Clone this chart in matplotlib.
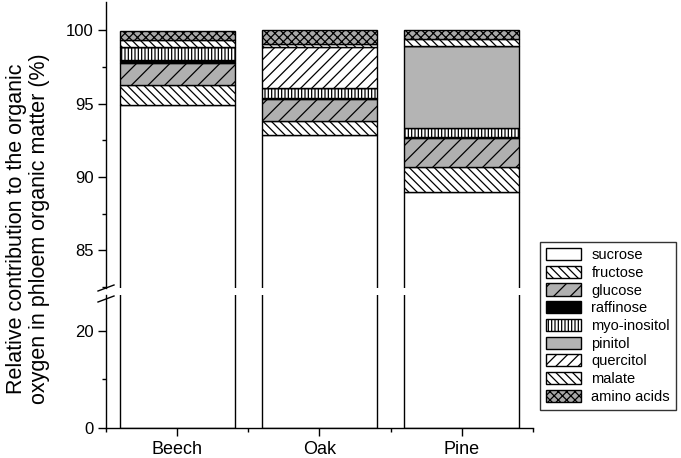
import matplotlib
matplotlib.use("Agg")
import matplotlib.pyplot as plt
import numpy as np
from matplotlib.lines import Line2D
from matplotlib.ticker import FixedLocator

plt.rcParams['font.family'] = ['Liberation Sans', 'DejaVu Sans']
plt.rcParams['hatch.linewidth'] = 0.9

categories = ["Beech", "Oak", "Pine"]
components = ["sucrose", "fructose", "glucose", "raffinose", "myo-inositol",
              "pinitol", "quercitol", "malate", "amino acids"]
sucrose = [94.9, 92.9, 89.0]
fructose = [1.37, 0.95, 1.7]
glucose = [1.5, 1.5, 2.0]
raffinose = [0.23, 0.04, 0.05]
myo_inositol = [0.9, 0.7, 0.6]
pinitol = [0.0, 0.0, 5.6]
quercitol = [0.0, 2.8, 0.0]
malate = [0.45, 0.18, 0.5]
amino_acids = [0.63, 0.93, 0.55]
series = [sucrose, fructose, glucose, raffinose, myo_inositol,
          pinitol, quercitol, malate, amino_acids]

styles = [
    dict(facecolor="white", hatch=None),
    dict(facecolor="white", hatch="\\\\\\\\"),
    dict(facecolor="#b0b0b0", hatch="//"),
    dict(facecolor="black", hatch=None),
    dict(facecolor="white", hatch="|||||"),
    dict(facecolor="#b4b4b4", hatch=None),
    dict(facecolor="white", hatch="///"),
    dict(facecolor="white", hatch="\\\\\\\\"),
    dict(facecolor="#a8a8a8", hatch="xxxx"),
]

W, H = 681, 458
fig = plt.figure(figsize=(W / 100, H / 100), dpi=100)
left, right = 106 / W, 533 / W
ax_up = fig.add_axes([left, 1 - 288 / H, right - left, (288 - 2) / H])
ax_lo = fig.add_axes([left, 1 - 428 / H, right - left, (428 - 295) / H])

x = np.arange(len(categories))
width = 0.81
for ax in (ax_up, ax_lo):
    bottom = np.zeros(len(categories))
    for name, vals, st in zip(components, series, styles):
        vals = np.array(vals)
        ax.bar(x, vals, width, bottom=bottom, facecolor=st["facecolor"],
               hatch=st["hatch"], edgecolor="black", linewidth=1.0,
               label=name if ax is ax_up else None)
        bottom = bottom + vals
    ax.set_xlim(-0.5, 2.5)
    for s in ("top", "right"):
        ax.spines[s].set_visible(False)
    ax.spines["left"].set_linewidth(1.0)
    ax.tick_params(axis="both", which="major", direction="out", length=5.5,
                   width=1.0, colors="black")
    ax.tick_params(axis="y", which="major", labelsize=12)
    ax.tick_params(axis="x", which="major", labelsize=13)
    ax.tick_params(axis="both", which="minor", direction="out", length=2.8,
                   width=1.0)

ax_up.set_ylim(82.44, 101.94)
ax_up.yaxis.set_major_locator(FixedLocator([85, 90, 95, 100]))
ax_up.yaxis.set_minor_locator(FixedLocator([82.5, 87.5, 92.5, 97.5]))
ax_up.spines["bottom"].set_visible(False)
ax_up.set_xticks([])
ax_up.tick_params(axis="x", which="both", bottom=False, labelbottom=False)

ax_lo.set_ylim(0, 27.4)
ax_lo.yaxis.set_major_locator(FixedLocator([0, 20]))
ax_lo.yaxis.set_minor_locator(FixedLocator([10]))
ax_lo.spines["bottom"].set_linewidth(1.0)
ax_lo.set_xticks(x)
ax_lo.set_xticklabels(categories)
ax_lo.xaxis.set_minor_locator(FixedLocator([-0.5, 0.5, 1.5, 2.5]))

# break marks
for (x0, y0, x1, y1) in [(98, 291, 114, 285), (98, 302, 114, 296)]:
    fig.add_artist(Line2D([x0 / W, x1 / W], [1 - y0 / H, 1 - y1 / H],
                          color="black", linewidth=1.0))

fig.text(28 / W, 1 - 229 / H,
         "Relative contribution to the organic\noxygen in phloem organic matter (%)",
         rotation=90, ha="center", va="center", fontsize=15.5, linespacing=1.15)

handles, labels = ax_up.get_legend_handles_labels()
leg = fig.legend(handles, labels, loc="lower left",
                 bbox_to_anchor=(540 / W, 1 - 410 / H), borderaxespad=0,
                 fontsize=10.5, frameon=True, fancybox=False,
                 handlelength=2.4, handleheight=0.9, labelspacing=0.25,
                 handletextpad=0.7, borderpad=0.42)
leg.get_frame().set_edgecolor("black")
leg.get_frame().set_linewidth(1.0)

fig.savefig("out.png", dpi=100)
